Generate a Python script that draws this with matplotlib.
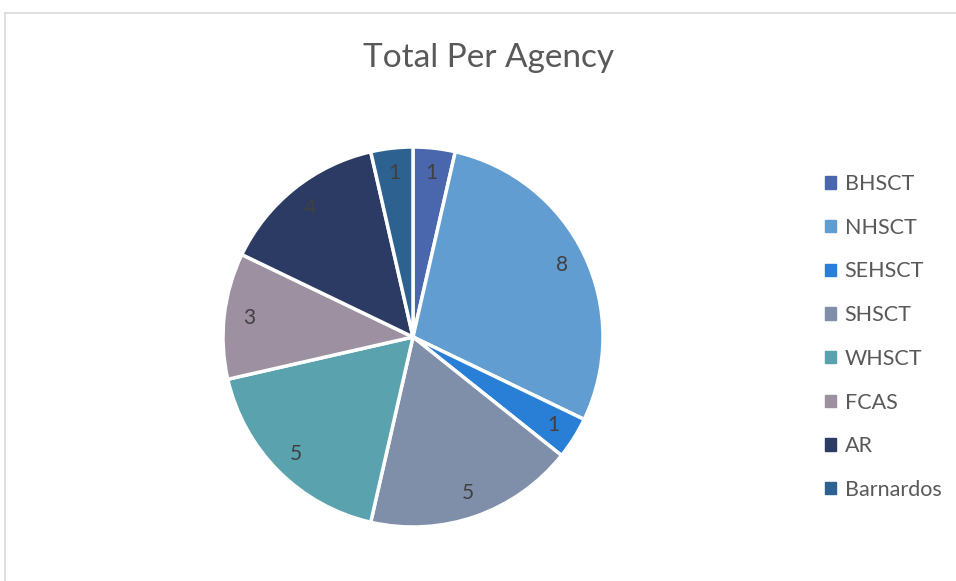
import matplotlib.pyplot as plt
from matplotlib.lines import Line2D

plt.rcParams['font.family'] = ['Lato', 'DejaVu Sans']

# --- Data ---
agencies = ['BHSCT', 'NHSCT', 'SEHSCT', 'SHSCT', 'WHSCT', 'FCAS', 'AR', 'Barnardos']
totals = [1, 8, 1, 5, 5, 3, 4, 1]
colors = ['#4A66AC', '#629DD1', '#297FD5', '#7F8FA9', '#5AA2AE', '#9D90A0', '#2C3B63', '#2D6290']

W, H = 956, 581
fig = plt.figure(figsize=(W / 100, H / 100), dpi=100)

# chart frame (left and top edges visible)
fig.add_artist(Line2D([5 / W, 5 / W], [0, 1 - 13 / H], color='#D9D9D9', lw=1.2))
fig.add_artist(Line2D([5 / W, 1], [1 - 13 / H, 1 - 13 / H], color='#D9D9D9', lw=1.2))

cx, cy, r = 413, 337, 190
ax = fig.add_axes([(cx - r) / W, (H - cy - r) / H, 2 * r / W, 2 * r / H])

total = sum(totals)
wedges, texts, autotexts = ax.pie(
    totals, colors=colors, startangle=90, counterclock=False,
    autopct=lambda p: f'{round(p * total / 100):d}', pctdistance=0.87,
    wedgeprops=dict(edgecolor='white', linewidth=2.5),
    textprops=dict(color='#404040', fontsize=15))
for w in wedges:
    w.set_clip_on(False)
ax.set_xlim(-1, 1)
ax.set_ylim(-1, 1)
ax.set_aspect('equal')

fig.text(489 / W, 1 - 58 / H, 'Total Per Agency', ha='center', va='center',
         fontsize=24, color='#595959')

handles = [plt.Rectangle((0, 0), 1, 1, color=c) for c in colors]
fig.legend(handles, agencies, loc='center left',
           bbox_to_anchor=(806 / W, 1 - 337 / H), frameon=False,
           fontsize=15.5, labelcolor='#595959', handlelength=0.5, handleheight=0.5,
           handletextpad=0.4, labelspacing=1.1)

fig.savefig('out.png', dpi=100)
